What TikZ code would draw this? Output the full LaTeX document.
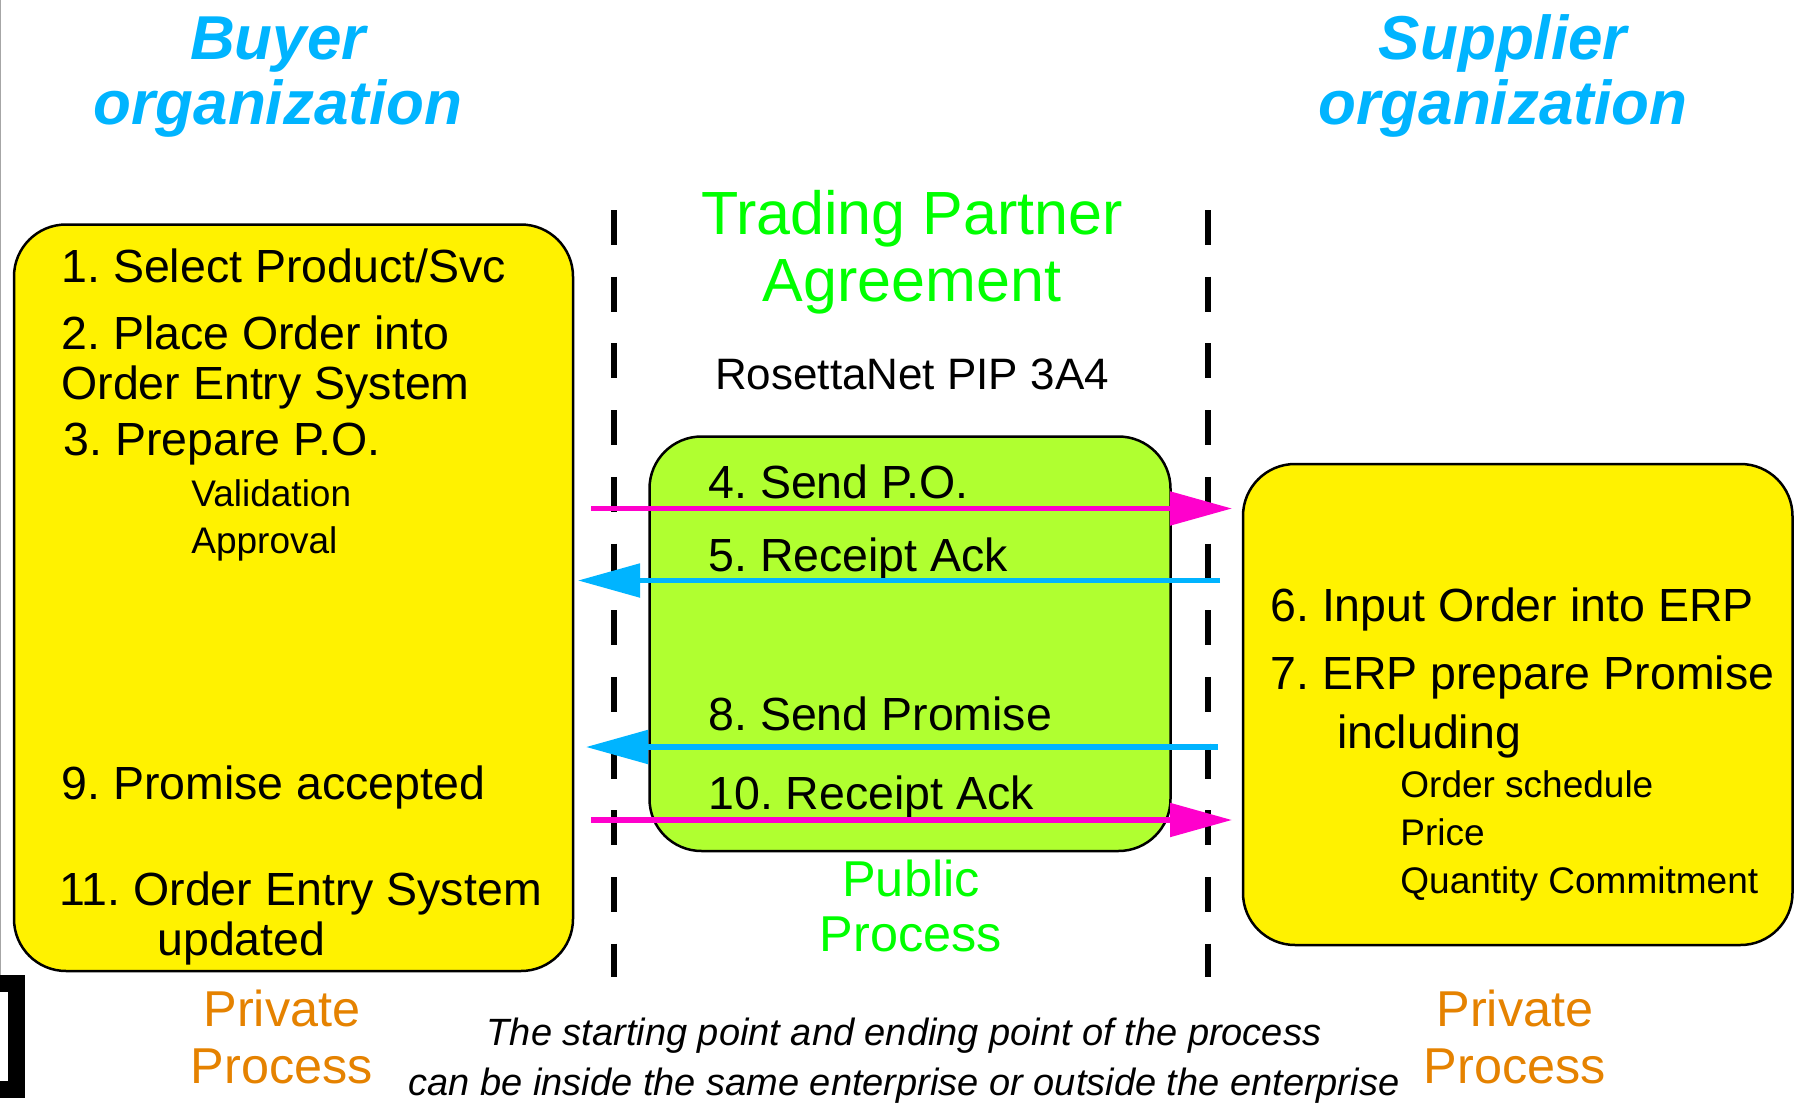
\documentclass[tikz,border=0pt]{standalone}
\usepackage{fontspec}
\setmainfont{Liberation Sans}
\usepackage{tikz}
\usetikzlibrary{positioning,arrows.meta}
\frenchspacing

\definecolor{orgblue}{RGB}{0,180,255}
\definecolor{tpagreen}{RGB}{0,255,0}
\definecolor{pubgreen}{RGB}{176,255,48}
\definecolor{privorange}{RGB}{229,130,0}
\definecolor{msgpink}{RGB}{255,0,204}

\begin{document}
\begin{tikzpicture}[x=0.5pt,y=-0.5pt,
box/.style={draw=black,line width=1.25pt,rounded corners=26pt,anchor=north west,inner sep=0,outer sep=0},
big/.style={inner sep=0,anchor=base west,font=\fontsize{23.25}{27}\selectfont},
small/.style={inner sep=0,anchor=base west,font=\fontsize{18.5}{22}\selectfont},
orgtitle/.style={inner sep=0,anchor=base,text=orgblue,font=\fontsize{31}{36}\selectfont\bfseries\itshape},
tpatext/.style={inner sep=0,anchor=base,text=tpagreen,font=\fontsize{30.5}{36}\selectfont},
proclabel/.style={inner sep=0,anchor=base,font=\fontsize{25.2}{30}\selectfont},
note/.style={inner sep=0,anchor=base,font=\fontsize{19}{24}\selectfont\itshape},
border/.style={line width=2.6pt,dash pattern=on 17.5pt off 15.85pt},
msg/.style={line width=2.6pt,-{Triangle[length=31pt,width=16.5pt]}}]
\useasboundingbox (0,0) rectangle (1796,1103);

% slide leftovers
\draw[gray!70,line width=0.6pt] (0.6,0) -- (0.6,975);
\draw[line width=8.5pt] (-40,983.5) rectangle (16,1089);

% organizations
\node (buyer1) [orgtitle] at (278,59) {Buyer};
\node (buyer2) [orgtitle] at (278,124) {organization};
\node (supp1) [orgtitle] at (1503,59) {Supplier};
\node (supp2) [orgtitle] at (1503,124) {organization};

% public process
\node (tpa1) [tpatext] at (912,234) {Trading Partner};
\node (tpa2) [tpatext] at (912,301) {Agreement};
\node (pip) [inner sep=0,anchor=base,font=\fontsize{22}{26}\selectfont] at (912,389) {RosettaNet PIP 3A4};

\coordinate (lborder-t) at (614,210);
\coordinate (lborder-b) at (614,977);
\coordinate (rborder-t) at (1208,210);
\coordinate (rborder-b) at (1208,977);
\draw[border] (lborder-t) -- (lborder-b);
\draw[border] (rborder-t) -- (rborder-b);

\node (buyerbox) [box,fill=yellow,minimum width=279.5pt,minimum height=373.25pt] at (14,224.5) {};
\node (suppbox) [box,fill=yellow,minimum width=274.75pt,minimum height=240.5pt] at (1243,464) {};
\node (pubbox) [box,fill=pubgreen,minimum width=260.5pt,minimum height=207.25pt] at (649.5,436.5) {};

% buyer steps
\node (s1) [big] at (61,282) {1. Select Product/Svc};
\node (s2) [big] at (61,349) {2. Place Order into};
\node (s2b) [big] at (61,399) {Order Entry System};
\node (s3) [big] at (63,455) {3. Prepare P.O.};
\node (s3a) [small] at (191,506) {Validation};
\node (s3b) [small] at (191,553) {Approval};
\node (s9) [big] at (61,799) {9. Promise accepted};
\node (s11) [big] at (59,905) {11. Order Entry System};
\node (s11b) [big] at (157,955) {updated};

% messages
\node (s4) [big] at (708,498) {4. Send P.O.};
\node (s5) [big] at (708,571) {5. Receipt Ack};
\node (s8) [big] at (708,730) {8. Send Promise};
\node (s10) [big] at (708,809) {10. Receipt Ack};

% supplier steps
\node (s6) [big] at (1270,621) {6. Input Order into ERP};
\node (s7) [big] at (1270,689) {7. ERP prepare Promise};
\node (s7b) [big] at (1337,748) {including};
\node (s7c) [small] at (1400,797) {Order schedule};
\node (s7d) [small] at (1400,845) {Price};
\node (s7e) [small] at (1400,893) {Quantity Commitment};

\coordinate (po-a) at (591,508.5);
\coordinate (po-b) at (1232,508.5);
\coordinate (ack-a) at (1220,580.5);
\coordinate (ack-b) at (578,580.5);
\coordinate (pr-a) at (1217.5,747);
\coordinate (pr-b) at (586,747);
\coordinate (ack2-a) at (591,820);
\coordinate (ack2-b) at (1232,820);
\draw[msg,msgpink] (po-a) -- (po-b);
\draw[msg,orgblue] (ack-a) -- (ack-b);
\draw[msg,orgblue] (pr-a) -- (pr-b);
\draw[msg,msgpink] (ack2-a) -- (ack2-b);

% process labels
\node (pub1) [proclabel,text=tpagreen] at (911,896) {Public};
\node (pub2) [proclabel,text=tpagreen] at (911,951) {Process};
\node (priv1) [proclabel,text=privorange] at (282,1026) {Private};
\node (priv2) [proclabel,text=privorange] at (282,1083) {Process};
\node (priv3) [proclabel,text=privorange] at (1515,1026) {Private};
\node (priv4) [proclabel,text=privorange] at (1515,1083) {Process};

\node (note1) [note] at (904,1045) {The starting point and ending point of the process};
\node (note2) [note] at (904,1095) {can be inside the same enterprise or outside the enterprise};
\end{tikzpicture}
\end{document}
